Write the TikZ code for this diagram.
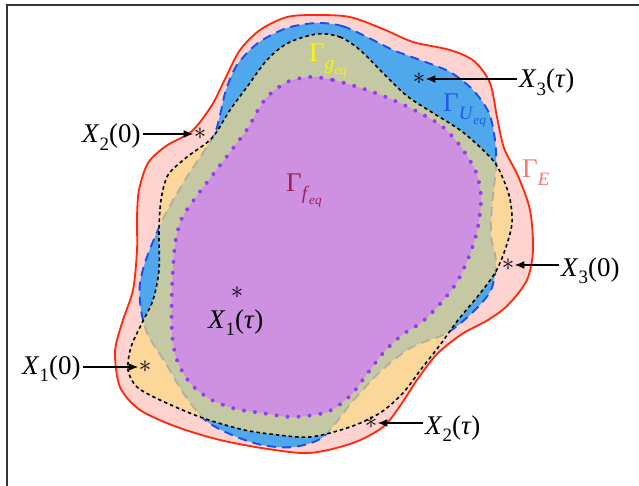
\documentclass[tikz,border=0pt]{standalone}
\usepackage{fontspec}
\setmainfont{Liberation Serif}
\usepackage{xcolor}
\usepackage{graphicx}
\usetikzlibrary{arrows.meta,positioning}
\definecolor{pinkE}{RGB}{255,211,207}
\definecolor{redE}{RGB}{255,40,10}
\definecolor{blueU}{RGB}{80,168,236}
\definecolor{dashU}{RGB}{26,79,232}
\definecolor{orangeG}{RGB}{252,218,130}
\definecolor{purpleF}{RGB}{206,144,224}
\definecolor{dotF}{RGB}{150,60,240}
\definecolor{txtG}{RGB}{250,245,10}
\definecolor{txtU}{RGB}{30,90,230}
\definecolor{txtE}{RGB}{245,120,120}
\definecolor{txtF}{RGB}{160,30,90}
\newcommand{\sbs}[1]{\raisebox{-0.28em}{\scalebox{0.7}{#1}}}
\newcommand{\Xlab}[2]{\textit{X}\sbs{#1}(#2)}

\begin{document}
\begin{tikzpicture}[x=1pt,y=-1pt,>={Latex[length=10pt,width=8pt]},font=\fontsize{27}{31}\selectfont,
  lbl/.style={inner sep=2pt,anchor=base west},
  pt/.style={inner sep=0pt,font=\fontsize{26}{26}\selectfont},
  arr/.style={->,line width=1.8pt}]
 \useasboundingbox (0,0) rectangle (639,486);
 \draw[line width=1.5pt,black!80] (7,486) -- (7,5) -- (639,5);
 % the four regions, outer to inner
 \filldraw[fill=pinkE,draw=redE,line width=1.8pt] plot[smooth cycle] coordinates {(317,15) (350,17) (383,29) (413,42) (450,50) (474,61) (490,83) (497,117) (504,148) (518,176) (530,210) (533,250) (527,280) (508,305) (488,320) (462,334) (437,354) (417,380) (400,406) (383,427) (353,443) (310,453) (268,449) (220,440) (177,427) (140,410) (120,387) (115,352) (122,323) (133,290) (137,250) (137,217) (139,190) (148,163) (166,146) (192,131) (212,105) (226,77) (240,50) (260,30) (287,17)};
 \filldraw[fill=blueU,draw=dashU,line width=1.9pt,dash pattern=on 9pt off 6pt] plot[smooth cycle] coordinates {(317,23) (342,26) (367,37) (393,50) (420,60) (450,72) (473,90) (489,113) (495,140) (496,167) (492,205) (491,236) (496,262) (491,290) (473,312) (447,333) (412,347) (382,370) (352,402) (323,437) (293,447) (262,445) (232,435) (205,420) (184,394) (165,362) (148,335) (141,310) (140,283) (148,254) (165,215) (187,177) (213,137) (220,115) (226,90) (237,65) (258,43) (287,28)};
 \filldraw[fill=orangeG,fill opacity=0.68,draw=black,line width=1.6pt,dash pattern=on 3.5pt off 3pt] plot[smooth cycle] coordinates {(317,34) (340,37) (360,50) (383,73) (407,96) (433,113) (460,130) (482,149) (497,166) (509,195) (512,223) (505,250) (495,273) (478,296) (458,320) (440,345) (422,368) (403,393) (380,413) (350,427) (310,437) (270,434) (240,429) (200,417) (160,400) (137,387) (128,370) (131,347) (142,323) (153,300) (159,270) (159,230) (161,200) (168,175) (187,157) (212,138) (230,110) (247,87) (267,60) (288,43)};
 \filldraw[fill=purpleF,draw=dotF,line width=4pt,line cap=round,dash pattern=on 0pt off 11pt] plot[smooth cycle] coordinates {(310,77) (333,80) (367,90) (393,100) (420,113) (443,127) (461,147) (476,172) (481,197) (478,227) (470,254) (457,282) (440,304) (422,322) (402,335) (384,352) (367,374) (350,396) (327,412) (293,417) (262,413) (236,409) (210,399) (190,383) (177,360) (172,333) (172,290) (175,245) (182,218) (199,193) (218,168) (234,147) (248,128) (258,110) (268,96) (287,82)};
 % region names
 \node[lbl,text=txtG] (nG) at (307,62) {Γ\sbs{\textit{g}\sbs{\textit{eq}}}};
 \node[lbl,text=txtU] (nU) at (441,112) {Γ\sbs{\textit{U}\sbs{\textit{eq}}}};
 \node[lbl,text=txtE] (nE) at (520,178) {Γ\sbs{\textit{E}}};
 \node[lbl,text=txtF] (nF) at (284,192) {Γ\sbs{\textit{f}\sbs{\textit{eq}}}};
 % points and their labels
 \node[pt] (s10) at (145,367) {$\ast$}; \node[lbl] (x10) at (20,374) {\Xlab{1}{0}};
 \node[pt] (s20) at (200,134) {$\ast$}; \node[lbl] (x20) at (80,143) {\Xlab{2}{0}};
 \node[pt] (s30) at (508,265) {$\ast$}; \node[lbl] (x30) at (559,276) {\Xlab{3}{0}};
 \node[pt] (s1t) at (237,293) {$\ast$}; \node[lbl] (x1t) at (206,328) {\Xlab{1}{\textit{τ}}};
 \node[pt] (s2t) at (371,423) {$\ast$}; \node[lbl] (x2t) at (423,434) {\Xlab{2}{\textit{τ}}};
 \node[pt] (s3t) at (419,79) {$\ast$}; \node[lbl] (x3t) at (517,88) {\Xlab{3}{\textit{τ}}};
 \draw[arr] (x10.east |- s10) -- (s10); \draw[arr] (x20.east |- s20) -- (s20);
 \draw[arr] (x30.west |- s30) -- (s30); \draw[arr] (x2t.west |- s2t) -- (s2t);
 \draw[arr] (x3t.west |- s3t) -- (s3t);
\end{tikzpicture}
\end{document}
